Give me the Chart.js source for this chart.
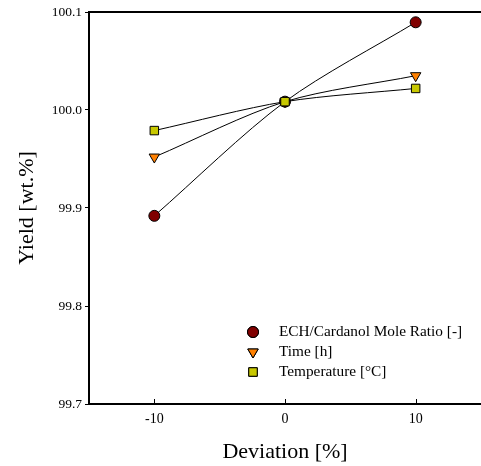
<!DOCTYPE html>
<html>
<head>
<meta charset="utf-8">
<script src="https://cdn.jsdelivr.net/npm/chart.js@4"></script>
<style>
  body { margin: 0; background: #fff; }
  canvas { display: block; }
</style>
</head>
<body>
<canvas id="yieldChart" width="481" height="466"></canvas>
<script>
// ===== Data =====
const deviation = [-10, 0, 10];
const molarRatio = [99.892, 100.0085, 100.0895];
const timeH = [99.952, 100.0085, 100.035];
const temperature = [99.979, 100.0085, 100.022];
const xTicks = [-10, 0, 10];
const yTicks = [99.7, 99.8, 99.9, 100.0, 100.1];
const seriesNames = ['ECH/Cardanol Mole Ratio [-]', 'Time [h]', 'Temperature [°C]'];

const serif = "'Liberation Serif', 'Times New Roman', serif";

function pts(vals) {
    return deviation.map((x, i) => ({ x: x, y: vals[i] }));
}

// top frame line, inward x ticks and legend inside the plot
const framePlugin = {
    id: 'frame',
    afterDraw(chart) {
        let ctx = chart.ctx;
        let a = chart.chartArea;
        let xs = chart.scales.x;
        ctx.save();
        ctx.strokeStyle = '#000';
        ctx.lineWidth = 2;
        ctx.beginPath();
        ctx.moveTo(a.left - 1, a.top);
        ctx.lineTo(a.right, a.top);
        ctx.stroke();
        ctx.lineWidth = 1;
        xTicks.forEach(v => {
            let px = Math.round(xs.getPixelForValue(v)) + 0.5;
            ctx.beginPath();
            ctx.moveTo(px, a.bottom);
            ctx.lineTo(px, a.bottom - 5);
            ctx.stroke();
        });
        // legend
        let lx = 253, ly = 332, step = 20;
        chart.data.datasets.forEach((ds, i) => {
            let y = ly + i * step;
            Chart.helpers.drawPoint(ctx, {
                pointStyle: ds.pointStyle,
                radius: ds.pointRadius,
                rotation: ds.pointRotation || 0,
                borderWidth: 1
            }, lx, y);
            ctx.fillStyle = ds.pointBackgroundColor;
            ctx.strokeStyle = '#000';
            ctx.lineWidth = 1;
            ctx.fill();
            ctx.stroke();
            ctx.fillStyle = '#000';
            ctx.font = '15.3px ' + serif;
            ctx.textBaseline = 'middle';
            ctx.textAlign = 'left';
            ctx.fillText(ds.label, 279, y);
        });
        ctx.restore();
    }
};

function makeSet(label, vals, style, color, radius, rot, order) {
    return {
        label: label,
        data: pts(vals),
        order: order,
        borderColor: '#000',
        borderWidth: 1,
        tension: 0.3,
        pointStyle: style,
        pointRadius: radius,
        pointRotation: rot,
        pointBackgroundColor: color,
        pointBorderColor: '#000',
        pointBorderWidth: 1
    };
}

new Chart(document.getElementById('yieldChart'), {
    type: 'line',
    data: {
        datasets: [
            makeSet(seriesNames[0], molarRatio, 'circle', '#800000', 5.5, 0, 2),
            makeSet(seriesNames[1], timeH, 'triangle', '#ff8000', 6, 180, 1),
            makeSet(seriesNames[2], temperature, 'rect', '#c8c800', 6, 0, 0)
        ]
    },
    options: {
        responsive: false,
        animation: false,
        layout: { autoPadding: false, padding: { top: 12, right: 0, left: 0, bottom: 0 } },
        plugins: { legend: { display: false }, tooltip: { enabled: false } },
        scales: {
            x: {
                type: 'linear',
                min: -15,
                max: 15,
                afterBuildTicks: s => { s.ticks = xTicks.map(v => ({ value: v })); },
                afterFit: s => { s.height = 62; s.paddingLeft = 0; s.paddingRight = 0; },
                grid: { display: true, drawOnChartArea: false, drawTicks: false },
                border: { display: true, color: '#000', width: 2 },
                ticks: { color: '#000', padding: 7, font: { family: serif, size: 14 } },
                title: {
                    display: true, text: 'Deviation [%]', color: '#000',
                    font: { family: serif, size: 22 }, padding: { top: 0, bottom: 1 }
                }
            },
            y: {
                min: 99.7,
                max: 100.1,
                afterBuildTicks: s => { s.ticks = yTicks.map(v => ({ value: v })); },
                afterFit: s => { s.width = 89; s.paddingTop = 0; s.paddingBottom = 0; },
                grid: { display: true, drawOnChartArea: false, drawTicks: true, tickLength: 4, color: '#000' },
                border: { display: true, color: '#000', width: 2 },
                ticks: {
                    color: '#000', padding: 3, font: { family: serif, size: 13.5 },
                    callback: v => v.toFixed(1)
                },
                title: {
                    display: true, text: 'Yield [wt.%]', color: '#000',
                    font: { family: serif, size: 22 }, padding: { top: 14, bottom: 0 }
                }
            }
        }
    },
    plugins: [framePlugin]
});
</script>
</body>
</html>
